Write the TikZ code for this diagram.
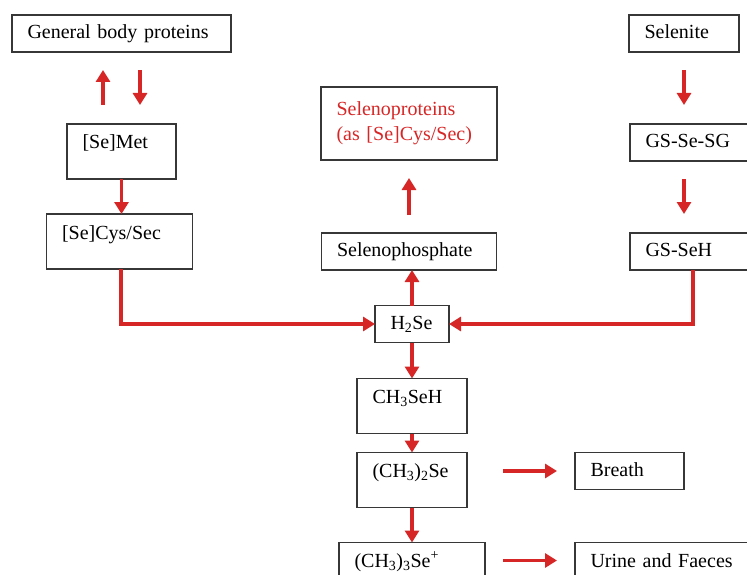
\documentclass[tikz,border=0pt]{standalone}
\usepackage{fontspec}
\setmainfont{Liberation Serif}
\usetikzlibrary{positioning,arrows.meta,calc}
\definecolor{pathred}{RGB}{214,38,38}
\definecolor{boxline}{RGB}{55,55,55}

\begin{document}
\begin{tikzpicture}[
        x=1pt, y=1pt,
        font=\fontsize{20}{25}\selectfont,
        box/.style={rectangle, draw=boxline, line width=1.5pt, outer sep=0pt, align=left, inner xsep=15.5pt, inner ysep=0pt, minimum height=37pt, text height=14pt, text depth=4pt},
        tallbox/.style={box, minimum height=55pt, text depth=19pt},
        redbox/.style={rectangle, draw=boxline, line width=1.5pt, outer sep=0pt, align=left, inner xsep=15.5pt, minimum height=73pt, text=pathred},
        arr/.style={-{Triangle[length=12pt, width=14pt]}, line width=3.6pt, pathred},
    ]
    \useasboundingbox (0,0) rectangle (747,-575);
    \clip (0,0) rectangle (747,-575);

    % === Left column: methionine route ===
    \node[box, text width=188pt] (gbp) at (121.5,-33.5) {General body proteins};
    \node[tallbox, text width=78pt, below=72pt of gbp] (semet) {[Se]Met};
    \node[tallbox, text width=115pt, below=35pt of semet, xshift=-2pt] (secys) {[Se]Cys/Sec};

    \draw[arr, shorten <=19pt, shorten >=18pt] ([xshift=-18.5pt]semet.north) -- ([xshift=-18.5pt]gbp.south);
    \draw[arr, shorten <=18pt, shorten >=19pt] ([xshift=18.5pt]gbp.south) -- ([xshift=18.5pt]semet.north);
    \draw[arr] (semet.south) -- (semet.south |- secys.north);

    % === Right column: selenite route ===
    \node[box, text width=79pt] (selenite) at (684,-33.5) {Selenite};
    \node[box, text width=109pt, below=72pt of selenite, xshift=16pt] (gsesg) {GS-Se-SG};
    \node[box, text width=109pt, below=72pt of gsesg] (gseh) {GS-SeH};

    \draw[arr, shorten <=18pt, shorten >=19pt] (selenite.south) -- (selenite.south |- gsesg.north);
    \draw[arr, shorten <=18pt, shorten >=19pt] (selenite.south |- gsesg.south) -- (selenite.south |- gseh.north);

    % === Centre: selenide pool ===
    \node[redbox, text width=145pt] (selprot) at (409,-123.5) {Selenoproteins\\(as [Se]Cys/Sec)};
    \node[box, text width=144pt, below=73pt of selprot] (selphos) {Selenophosphate};
    \node[box, text width=43pt] (h2se) at (412,-324) {H\textsubscript{2}Se};

    \draw[arr, shorten <=18pt, shorten >=18pt] (selphos.north) -- (selphos.north |- selprot.south);
    \draw[arr] (h2se.north) -- (h2se.north |- selphos.south);
    \draw[arr] ([xshift=1.5pt]secys.south) |- (h2se.west);
    \draw[arr] ([xshift=-7pt]gseh.south) |- (h2se.east);

    % === Methylation and excretion ===
    \node[tallbox, text width=79pt, below=36pt of h2se] (ch3seh) {CH\textsubscript{3}SeH};
    \node[tallbox, text width=79pt, below=19pt of ch3seh] (dmse) {(CH\textsubscript{3})\textsubscript{2}Se};
    \node[tallbox, text width=115pt, below=35pt of dmse] (tmse) {(CH\textsubscript{3})\textsubscript{3}Se\textsuperscript{+}};
    \node[box, text width=78pt, right=108pt of dmse.north east, anchor=north west] (breath) {Breath};
    \node[tallbox, text width=180pt, right=90pt of tmse.north east, anchor=north west] (urine) {Urine and Faeces};
    \coordinate (urinein) at ([yshift=-18pt]urine.north west);

    \draw[arr] (h2se) -- (ch3seh);
    \draw[arr] (ch3seh) -- (dmse);
    \draw[arr] (dmse) -- (tmse);
    \draw[arr, shorten <=36pt, shorten >=18pt] (breath.west -| dmse.east) -- (breath.west);
    \draw[arr, shorten <=18pt, shorten >=18pt] (tmse.east |- urinein) -- (urinein);

\end{tikzpicture}
\end{document}
